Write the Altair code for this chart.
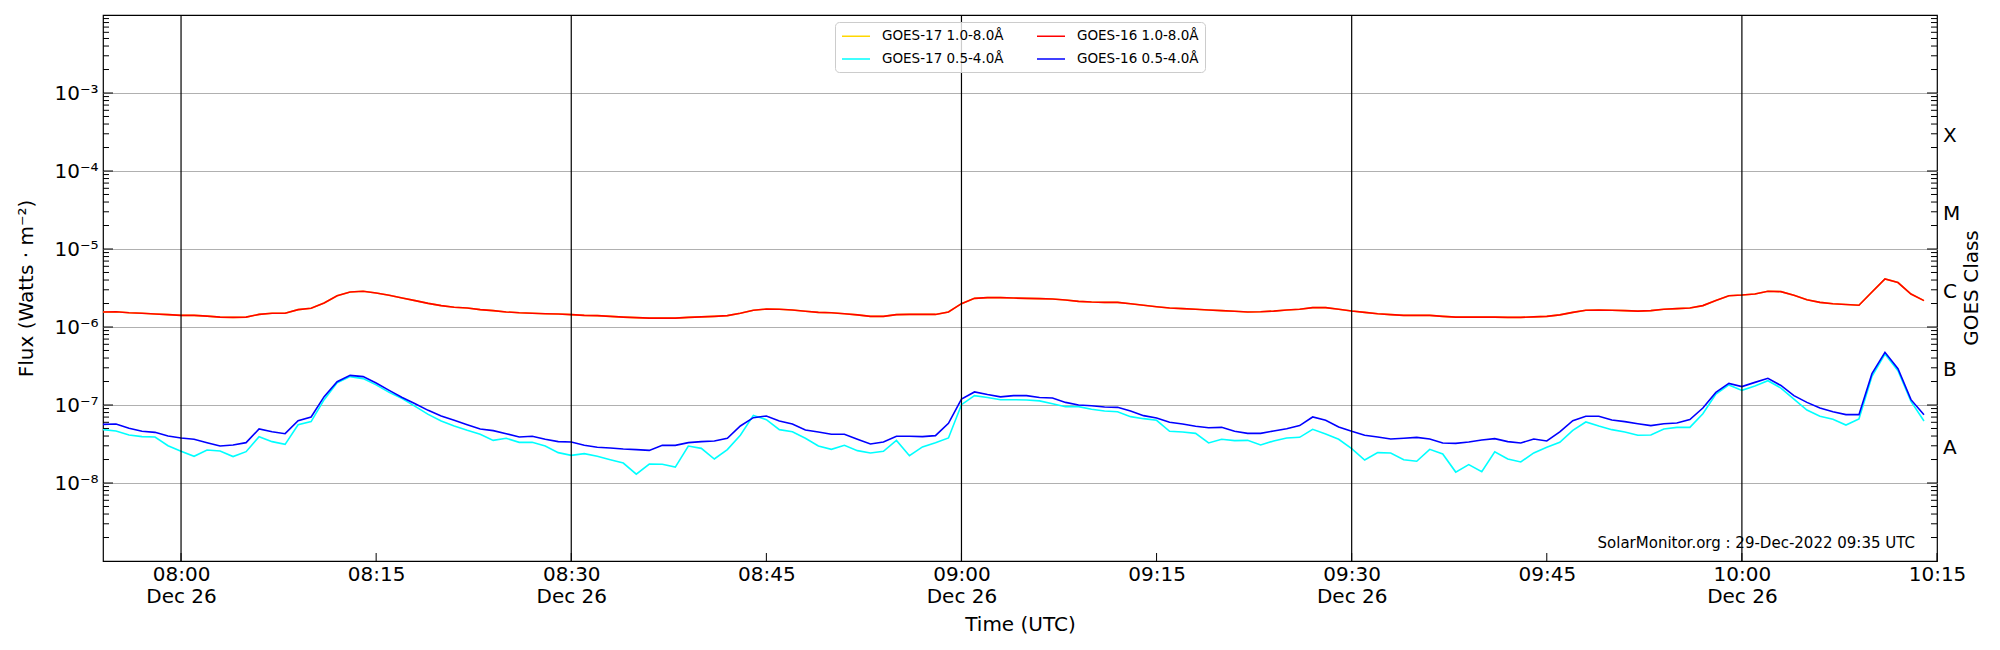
import altair as alt
import pandas as pd

# ---------------- data (1-minute cadence, 07:54 .. 10:14 UTC, 26 Dec 2022) ----------------
START = "2022-12-26 07:54"
N_POINTS = 141

# GOES-16 1.0-8.0 Å, in units of 1e-6 W m^-2
g16_long_e6 = [
    1.56, 1.57, 1.52, 1.50, 1.47, 1.44,
    1.41, 1.41, 1.38, 1.34, 1.33, 1.34, 1.45, 1.50, 1.50, 1.67,
    1.74, 2.03, 2.52, 2.81, 2.87, 2.73, 2.55, 2.35, 2.18, 2.01,
    1.88, 1.79, 1.75, 1.67, 1.62, 1.56, 1.52, 1.50, 1.48, 1.47,
    1.44, 1.41, 1.40, 1.37, 1.34, 1.32, 1.30, 1.30, 1.30, 1.33,
    1.35, 1.37, 1.40, 1.50, 1.64, 1.70, 1.69, 1.65, 1.59, 1.54,
    1.52, 1.48, 1.43, 1.37, 1.37, 1.44, 1.45, 1.45, 1.45, 1.56,
    1.99, 2.33, 2.38, 2.38, 2.35, 2.33, 2.31, 2.29, 2.22, 2.13,
    2.09, 2.07, 2.07, 1.99, 1.90, 1.82, 1.75, 1.72, 1.69, 1.65,
    1.62, 1.59, 1.56, 1.57, 1.60, 1.65, 1.69, 1.77, 1.77, 1.69,
    1.60, 1.54, 1.48, 1.44, 1.41, 1.41, 1.41, 1.37, 1.34, 1.34,
    1.34, 1.34, 1.33, 1.33, 1.35, 1.37, 1.43, 1.54, 1.64, 1.65,
    1.64, 1.62, 1.60, 1.62, 1.69, 1.72, 1.75, 1.88, 2.18, 2.52,
    2.57, 2.65, 2.87, 2.84, 2.55, 2.24, 2.07, 1.99, 1.94, 1.90,
    2.81, 4.13, 3.71, 2.65, 2.18,
]

# GOES-17 1.0-8.0 Å (lies under the GOES-16 curve in the picture), units of 1e-6
g17_long_e6 = [
    1.56, 1.57, 1.52, 1.50, 1.47, 1.44,
    1.41, 1.41, 1.38, 1.34, 1.33, 1.34, 1.45, 1.50, 1.50, 1.67,
    1.74, 2.03, 2.52, 2.81, 2.87, 2.73, 2.55, 2.35, 2.18, 2.01,
    1.88, 1.79, 1.75, 1.67, 1.62, 1.56, 1.52, 1.50, 1.48, 1.47,
    1.44, 1.41, 1.40, 1.37, 1.34, 1.32, 1.30, 1.30, 1.30, 1.33,
    1.35, 1.37, 1.40, 1.50, 1.64, 1.70, 1.69, 1.65, 1.59, 1.54,
    1.52, 1.48, 1.43, 1.37, 1.37, 1.44, 1.45, 1.45, 1.45, 1.56,
    1.99, 2.33, 2.38, 2.38, 2.35, 2.33, 2.31, 2.29, 2.22, 2.13,
    2.09, 2.07, 2.07, 1.99, 1.90, 1.82, 1.75, 1.72, 1.69, 1.65,
    1.62, 1.59, 1.56, 1.57, 1.60, 1.65, 1.69, 1.77, 1.77, 1.69,
    1.60, 1.54, 1.48, 1.44, 1.41, 1.41, 1.41, 1.37, 1.34, 1.34,
    1.34, 1.34, 1.33, 1.33, 1.35, 1.37, 1.43, 1.54, 1.64, 1.65,
    1.64, 1.62, 1.60, 1.62, 1.69, 1.72, 1.75, 1.88, 2.18, 2.52,
    2.57, 2.65, 2.87, 2.84, 2.55, 2.24, 2.07, 1.99, 1.94, 1.90,
    2.81, 4.13, 3.71, 2.65, 2.18,
]

# GOES-16 0.5-4.0 Å, units of 1e-8
g16_short_e8 = [
    5.65, 5.71, 5.02, 4.60, 4.46, 4.01,
    3.78, 3.63, 3.29, 2.98, 3.07, 3.29, 4.93, 4.55, 4.29, 6.30,
    7.02, 12.8, 19.9, 24.0, 23.1, 19.1, 15.4, 12.5, 10.4, 8.54,
    7.23, 6.37, 5.59, 4.93, 4.69, 4.29, 3.89, 3.97, 3.63, 3.39,
    3.36, 3.04, 2.87, 2.81, 2.73, 2.68, 2.62, 3.04, 3.04, 3.29,
    3.39, 3.46, 3.74, 5.38, 6.88, 7.23, 6.24, 5.71, 4.78, 4.51,
    4.21, 4.21, 3.63, 3.16, 3.36, 3.97, 3.97, 3.93, 4.05, 5.82,
    11.9, 14.7, 13.6, 12.7, 13.2, 13.2, 12.5, 12.3, 10.8, 10.0,
    9.80, 9.42, 9.33, 8.37, 7.30, 6.81, 6.00, 5.71, 5.33, 5.12,
    5.17, 4.60, 4.33, 4.33, 4.64, 4.97, 5.44, 7.02, 6.37, 5.23,
    4.60, 4.09, 3.89, 3.66, 3.74, 3.85, 3.66, 3.26, 3.22, 3.36,
    3.56, 3.70, 3.39, 3.26, 3.66, 3.46, 4.51, 6.30, 7.16, 7.16,
    6.43, 6.12, 5.76, 5.44, 5.76, 5.88, 6.49, 9.15, 14.5, 18.9,
    17.2, 19.5, 22.0, 17.8, 13.2, 10.8, 9.15, 8.20, 7.52, 7.52,
    25.2, 47.4, 29.2, 11.7, 7.52,
]

# GOES-17 0.5-4.0 Å, units of 1e-8
g17_short_e8 = [
    4.83, 4.64, 4.12, 3.93, 3.89, 3.01,
    2.55, 2.20, 2.65, 2.57, 2.18, 2.52, 3.93, 3.39, 3.13, 5.59,
    6.12, 11.7, 19.3, 23.1, 21.8, 18.1, 14.5, 12.1, 9.61, 7.59,
    6.24, 5.38, 4.73, 4.21, 3.52, 3.74, 3.32, 3.32, 2.98, 2.45,
    2.26, 2.38, 2.20, 1.99, 1.80, 1.30, 1.75, 1.74, 1.60, 2.98,
    2.78, 2.03, 2.68, 4.09, 7.37, 6.49, 4.83, 4.55, 3.74, 2.98,
    2.70, 3.04, 2.60, 2.43, 2.55, 3.52, 2.24, 2.90, 3.29, 3.78,
    10.1, 13.2, 12.5, 11.7, 11.7, 11.6, 11.3, 10.4, 9.52, 9.52,
    8.80, 8.37, 8.20, 7.09, 6.68, 6.37, 4.60, 4.51, 4.33, 3.26,
    3.63, 3.49, 3.52, 3.07, 3.46, 3.78, 3.85, 4.88, 4.25, 3.63,
    2.76, 1.97, 2.45, 2.43, 1.99, 1.90, 2.70, 2.36, 1.38, 1.72,
    1.40, 2.52, 2.03, 1.86, 2.43, 2.87, 3.32, 4.73, 6.06, 5.38,
    4.83, 4.51, 4.09, 4.12, 4.93, 5.17, 5.17, 7.74, 13.8, 18.1,
    15.4, 17.5, 20.5, 16.5, 11.9, 8.62, 7.16, 6.55, 5.54, 6.62,
    23.3, 45.1, 27.5, 11.1, 6.24,
]

S17L = "GOES-17 1.0-8.0Å"
S16L = "GOES-16 1.0-8.0Å"
S17S = "GOES-17 0.5-4.0Å"
S16S = "GOES-16 0.5-4.0Å"
# legend fills column by column: col 1 = GOES-17, col 2 = GOES-16
legend_order = [S17L, S17S, S16L, S16S]
legend_colors = ["#ffd700", "#00ffff", "#ff0000", "#0000ff"]
draw_order = [S17L, S16L, S17S, S16S]

vline_times = ["2022-12-26T08:00:00Z", "2022-12-26T08:30:00Z", "2022-12-26T09:00:00Z",
               "2022-12-26T09:30:00Z", "2022-12-26T10:00:00Z"]
xtick_times = ["2022-12-26T08:00:00Z", "2022-12-26T08:15:00Z", "2022-12-26T08:30:00Z",
               "2022-12-26T08:45:00Z", "2022-12-26T09:00:00Z", "2022-12-26T09:15:00Z",
               "2022-12-26T09:30:00Z", "2022-12-26T09:45:00Z", "2022-12-26T10:00:00Z",
               "2022-12-26T10:15:00Z"]
decades = [1e-8, 1e-7, 1e-6, 1e-5, 1e-4, 1e-3]
minor_ticks = [m * 10.0 ** e for e in range(-9, -2) for m in range(2, 10)]
class_letters = ["A", "B", "C", "M", "X"]
class_pos = [10 ** -7.5, 10 ** -6.5, 10 ** -5.5, 10 ** -4.5, 10 ** -3.5]
stamp = "SolarMonitor.org : 29-Dec-2022 09:35 UTC"

# ---------------- build table ----------------
times = pd.date_range(START, periods=N_POINTS, freq="min")
tstr = [t.strftime("%Y-%m-%dT%H:%M:%SZ") for t in times]
series_data = {S17L: (g17_long_e6, 1e-6), S16L: (g16_long_e6, 1e-6),
               S17S: (g17_short_e8, 1e-8), S16S: (g16_short_e8, 1e-8)}
rows = []
for name in draw_order:
    vals, unit = series_data[name]
    for t, v in zip(tstr, vals):
        rows.append({"time": t, "flux": v * unit, "series": name})
df = pd.DataFrame(rows)

W, H = 1834, 546
FONT = "DejaVu Sans"

x_scale = alt.Scale(
    type="utc",
    domain=[alt.DateTime(year=2022, month=12, date=26, hours=7, minutes=54, utc=True),
            alt.DateTime(year=2022, month=12, date=26, hours=10, minutes=15, utc=True)],
)
y_scale = alt.Scale(type="log", domain=[1e-9, 1e-2])

x_axis = alt.Axis(
    values=[alt.DateTime(year=2022, month=12, date=26, hours=int(s[11:13]), minutes=int(s[14:16]), utc=True)
            for s in xtick_times],
    labelExpr="utcminutes(datum.value) % 30 == 0 ? [utcFormat(datum.value, '%H:%M'), utcFormat(datum.value, '%b %d')] : utcFormat(datum.value, '%H:%M')",
    title="Time (UTC)", ticks=False, domain=False, grid=False,
    labelFont=FONT, labelFontSize=20, labelColor="black", labelPadding=3, labelLineHeight=22,
    labelFlush=False, labelOverlap=False,
    titleFont=FONT, titleFontSize=20, titleFontWeight="normal", titleColor="black",
    titleY=63, titleBaseline="middle",
)
y_axis = alt.Axis(
    values=decades,
    labelExpr="'10' + ['⁻⁹','⁻⁸','⁻⁷','⁻⁶','⁻⁵','⁻⁴','⁻³','⁻²'][round(log(datum.value)/LN10)+9]",
    title="Flux (Watts · m⁻²)", ticks=False, domain=False,
    grid=True, gridColor="#b0b0b0", gridWidth=1,
    labelFont=FONT, labelFontSize=20, labelColor="black", labelPadding=5, labelOverlap=False,
    titleFont=FONT, titleFontSize=20, titleFontWeight="normal", titleColor="black",
    titleX=-77, titleY=H / 2, titleAngle=270, titleBaseline="middle", titleAlign="center",
)

color = alt.Color(
    "series:N",
    scale=alt.Scale(domain=legend_order, range=legend_colors),
    legend=alt.Legend(
        title=None, orient="none", legendX=732, legendY=7, columns=2,
        symbolType="M-1,0H3", symbolSize=196, symbolStrokeWidth=1.5,
        labelFont=FONT, labelFontSize=13.5, labelColor="black", labelOffset=25,
        columnPadding=30, rowPadding=8, padding=6,
        strokeColor="#cccccc", fillColor="rgba(255,255,255,0.8)", cornerRadius=4,
    ),
)

layers = []
for name in draw_order:
    enc = dict(x=alt.X("time:T", scale=x_scale, axis=x_axis),
               y=alt.Y("flux:Q", scale=y_scale, axis=y_axis),
               color=color)
    layers.append(
        alt.Chart(df).transform_filter(alt.datum.series == name)
        .mark_line(strokeWidth=1.6, clip=True).encode(**enc)
    )

vlines = alt.Chart(pd.DataFrame({"time": vline_times})).mark_rule(
    color="black", strokeWidth=1.2).encode(x="time:T")

left_major = alt.Chart(pd.DataFrame({"flux": decades})).mark_rule(color="black", strokeWidth=1).encode(
    y="flux:Q", x=alt.value(0), x2=alt.value(10))
left_minor = alt.Chart(pd.DataFrame({"flux": minor_ticks})).mark_rule(color="black", strokeWidth=1).encode(
    y="flux:Q", x=alt.value(0), x2=alt.value(6))
right_major = alt.Chart(pd.DataFrame({"flux": decades})).mark_rule(color="black", strokeWidth=1).encode(
    y="flux:Q", x=alt.value(W - 10), x2=alt.value(W))
right_minor = alt.Chart(pd.DataFrame({"flux": minor_ticks})).mark_rule(color="black", strokeWidth=1).encode(
    y="flux:Q", x=alt.value(W - 6), x2=alt.value(W))
bottom_ticks = alt.Chart(pd.DataFrame({"time": xtick_times})).mark_rule(color="black", strokeWidth=1).encode(
    x="time:T", y=alt.value(H - 8), y2=alt.value(H))

class_text = alt.Chart(pd.DataFrame({"flux": class_pos, "cls": class_letters})).mark_text(
    align="left", baseline="middle", font=FONT, fontSize=20, color="black", dy=4).encode(
    y="flux:Q", x=alt.value(W + 6), text="cls:N")
class_title = alt.Chart(pd.DataFrame({"t": ["GOES Class"]})).mark_text(
    angle=270, align="center", baseline="middle", font=FONT, fontSize=20, color="black").encode(
    x=alt.value(W + 35), y=alt.value(H / 2), text="t:N")
stamp_text = alt.Chart(pd.DataFrame({"t": [stamp]})).mark_text(
    align="right", baseline="middle", font=FONT, fontSize=15, color="black").encode(
    x=alt.value(W - 22), y=alt.value(H - 18), text="t:N")

chart = alt.layer(
    *layers, vlines, left_major, left_minor, right_major, right_minor, bottom_ticks,
    class_text, class_title, stamp_text,
).properties(
    width=W, height=H,
    autosize=alt.AutoSizeParams(type="none"),
    padding={"left": 95, "top": 7, "right": 55, "bottom": 81},
    background="white",
).configure_view(stroke="black", strokeWidth=1.2)

chart.save("out.html", embed_options={"renderer": "svg", "actions": False})
